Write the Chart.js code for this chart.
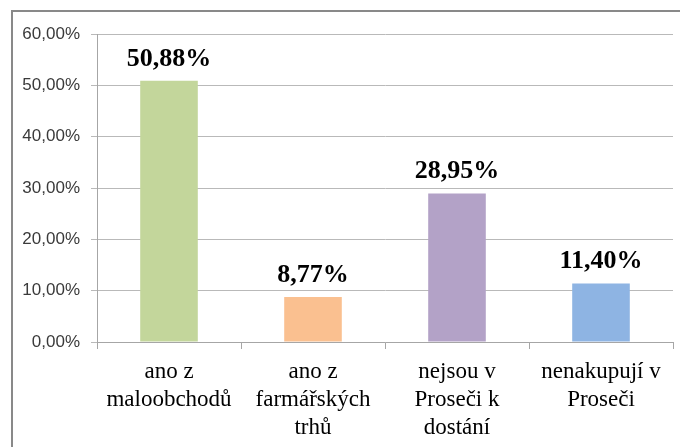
<!DOCTYPE html>
<html>
<head>
<meta charset="utf-8">
<script src="https://cdn.jsdelivr.net/npm/chart.js@4"></script>
<style>
  html, body { margin: 0; padding: 0; background: #fff; }
  #wrap { width: 680px; height: 447px; position: relative; }
</style>
</head>
<body>
<div id="wrap"><canvas id="chart" width="680" height="447"></canvas></div>
<script>
const categories = [
    ['ano z', 'maloobchodů'],
    ['ano z', 'farmářských', 'trhů'],
    ['nejsou v', 'Proseči k', 'dostání'],
    ['nenakupují v', 'Proseči']
];
const shares = [50.88, 8.77, 28.95, 11.40];
const barColors = ['#C3D69B', '#FAC090', '#B3A2C7', '#8EB4E3'];
const yTicks = [0, 10, 20, 30, 40, 50, 60];

const fmt = v => v.toFixed(2).replace('.', ',') + '%';

// outer frame of the original picture (right and bottom edges are cut off)
const framePlugin = {
    id: 'frame',
    beforeDraw(chart) {
        const ctx = chart.ctx;
        ctx.save();
        ctx.strokeStyle = '#898989';
        ctx.lineWidth = 2;
        ctx.strokeRect(12, 11, 720, 500);
        ctx.restore();
    }
};

// value labels above the bars
const valueLabels = {
    id: 'valueLabels',
    afterDatasetsDraw(chart) {
        const ctx = chart.ctx;
        const meta = chart.getDatasetMeta(0);
        ctx.save();
        ctx.font = 'bold 26px "Liberation Serif", "Times New Roman", serif';
        ctx.fillStyle = '#000';
        ctx.textAlign = 'center';
        ctx.textBaseline = 'alphabetic';
        meta.data.forEach((bar, i) => {
            ctx.fillText(fmt(shares[i]), bar.x, bar.y - 15);
        });
        ctx.restore();
    }
};

new Chart(document.getElementById('chart'), {
    type: 'bar',
    data: {
        labels: categories,
        datasets: [{
            data: shares,
            backgroundColor: barColors,
            borderWidth: 0,
            barPercentage: 0.4,
            categoryPercentage: 1
        }]
    },
    options: {
        responsive: false,
        animation: false,
        events: [],
        layout: { padding: { top: 34, right: 7, left: 0, bottom: 0 } },
        plugins: {
            legend: { display: false },
            tooltip: { enabled: false }
        },
        scales: {
            x: {
                grid: { drawOnChartArea: false, tickLength: 7, color: '#a6a6a6' },
                border: { color: '#a6a6a6' },
                ticks: {
                    color: '#000',
                    padding: 9,
                    maxRotation: 0,
                    autoSkip: false,
                    font: { family: '"Liberation Serif", "Times New Roman", serif', size: 23, lineHeight: '28px' }
                },
                afterFit(scale) { scale.height = 105; }
            },
            y: {
                min: 0,
                max: 60,
                afterBuildTicks(scale) { scale.ticks = yTicks.map(v => ({ value: v })); },
                grid: { tickLength: 6, color: '#b9b9b9' },
                border: { color: '#a6a6a6' },
                ticks: {
                    color: '#3a3a3a',
                    padding: 11,
                    callback: v => fmt(v),
                    font: { family: '"Liberation Sans", Arial, sans-serif', size: 17 }
                },
                afterFit(scale) { scale.width = 97; }
            }
        }
    },
    plugins: [framePlugin, valueLabels]
});
</script>
</body>
</html>
